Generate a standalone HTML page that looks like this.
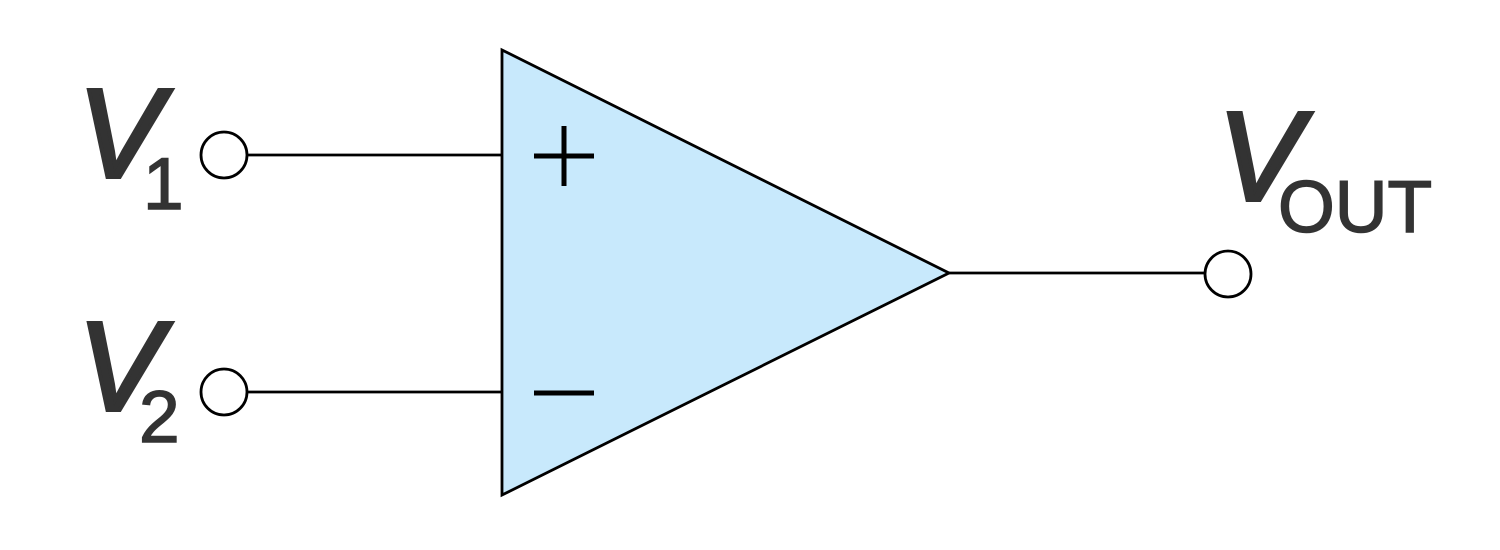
<!DOCTYPE html>
<html><head><style>body{margin:0;background:#fff}</style></head><body>
<svg width="1500" height="545" viewBox="0 0 1500 545" xmlns="http://www.w3.org/2000/svg">
<polygon points="502,50 502,495 949,273" fill="#c8e9fc" stroke="#000" stroke-width="2.8" stroke-linejoin="miter"/>
<line x1="247" y1="155" x2="502" y2="155" stroke="#000" stroke-width="2.8"/>
<line x1="247" y1="392" x2="502" y2="392" stroke="#000" stroke-width="2.8"/>
<line x1="949" y1="273" x2="1205" y2="273" stroke="#000" stroke-width="2.8"/>
<circle cx="224" cy="155" r="23" fill="#fff" stroke="#000" stroke-width="2.8"/>
<circle cx="224" cy="392" r="23" fill="#fff" stroke="#000" stroke-width="2.8"/>
<circle cx="1228" cy="274" r="23" fill="#fff" stroke="#000" stroke-width="2.8"/>
<line x1="534" y1="156" x2="594" y2="156" stroke="#000" stroke-width="5"/>
<line x1="564" y1="126" x2="564" y2="186" stroke="#000" stroke-width="5"/>
<line x1="534" y1="393" x2="594" y2="393" stroke="#000" stroke-width="5"/>
<g font-family="Liberation Sans, sans-serif" fill="#333" stroke="#333">
<text x="78" y="177" font-size="126" font-style="italic" stroke-width="4">V</text>
<text x="143" y="209" font-size="73" stroke-width="1.5">1</text>
<text x="78" y="410" font-size="126" font-style="italic" stroke-width="4">V</text>
<text x="139" y="442" font-size="73" stroke-width="1.5">2</text>
<text x="1218" y="200" font-size="126" font-style="italic" stroke-width="4">V</text>
<text x="1278" y="232" font-size="73" stroke-width="1.5">OUT</text>
</g>
</svg>
</body></html>
